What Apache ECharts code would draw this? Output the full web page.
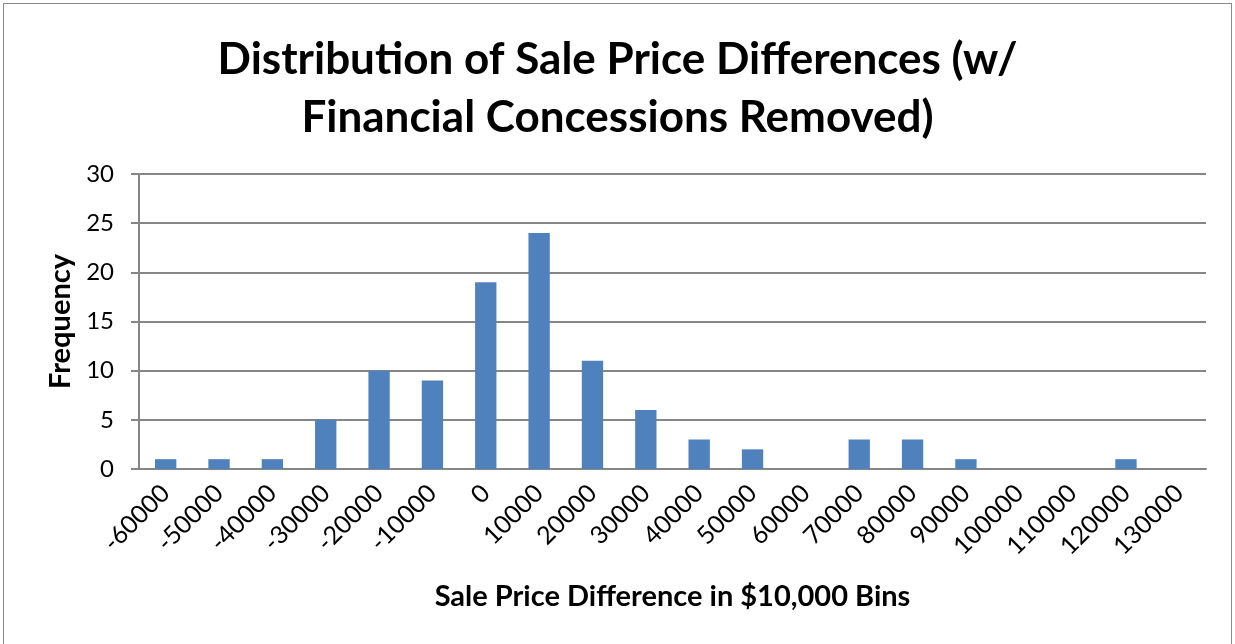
<!DOCTYPE html>
<html>
<head>
<meta charset="utf-8">
<script src="https://cdn.jsdelivr.net/npm/echarts@6/dist/echarts.min.js"></script>
<style>
  html, body { margin: 0; padding: 0; background: #fff; }
  #main { width: 1235px; height: 644px; }
  .frame { position: absolute; left: 3px; top: 3px; width: 1229px; height: 660px; border: 1px solid #8a8a8a; box-sizing: border-box; pointer-events: none; }
</style>
</head>
<body>
<div id="main"></div>
<div class="frame"></div>
<script>
// 分箱（美元差价）
var bins = ['-60000', '-50000', '-40000', '-30000', '-20000', '-10000', '0', '10000', '20000', '30000',
            '40000', '50000', '60000', '70000', '80000', '90000', '100000', '110000', '120000', '130000'];
// 频数
var frequency = [1, 1, 1, 5, 10, 9, 19, 24, 11, 6, 3, 2, 0, 3, 3, 1, 0, 0, 1, 0];
var yTicks = [0, 5, 10, 15, 20, 25, 30];

var fontName = 'Lato, "Open Sans", sans-serif';
var chart = echarts.init(document.getElementById('main'));
var option = {
    animation: false,
    title: {
        text: 'Distribution of Sale Price Differences (w/\nFinancial Concessions Removed)',
        left: 'center',
        top: 26,
        textStyle: {
            fontFamily: fontName,
            fontWeight: 'bold',
            fontSize: 44,
            lineHeight: 58,
            color: '#000'
        }
    },
    grid: {
        left: 139,
        right: 29,
        top: 174,
        bottom: 175
    },
    xAxis: {
        type: 'category',
        data: bins,
        name: 'Sale Price Difference in $10,000 Bins',
        nameLocation: 'middle',
        nameGap: 113,
        nameTextStyle: {
            fontFamily: fontName,
            fontWeight: 'bold',
            fontSize: 29,
            color: '#000'
        },
        axisLine: { lineStyle: { color: '#868686', width: 2 } },
        axisTick: { show: false },
        axisLabel: {
            rotate: 45,
            margin: 20,
            interval: 0,
            fontFamily: fontName,
            fontSize: 25,
            color: '#000'
        }
    },
    yAxis: {
        type: 'value',
        min: yTicks[0],
        max: yTicks[yTicks.length - 1],
        interval: 5,
        name: 'Frequency',
        nameLocation: 'middle',
        nameGap: 63,
        nameTextStyle: {
            fontFamily: fontName,
            fontWeight: 'bold',
            fontSize: 29,
            color: '#000'
        },
        axisLine: { show: true, lineStyle: { color: '#868686', width: 2 } },
        axisTick: { show: true, inside: false, length: 8, lineStyle: { color: '#868686', width: 2 } },
        splitLine: { lineStyle: { color: '#868686', width: 2 } },
        axisLabel: {
            margin: 25,
            fontFamily: fontName,
            fontSize: 24,
            color: '#000'
        }
    },
    series: [{
        name: 'Frequency',
        type: 'bar',
        data: frequency,
        barWidth: '40%',
        itemStyle: { color: '#4F81BD' }
    }]
};
if (option && typeof option === 'object') {
    chart.setOption(option, true);
}
</script>
</body>
</html>
